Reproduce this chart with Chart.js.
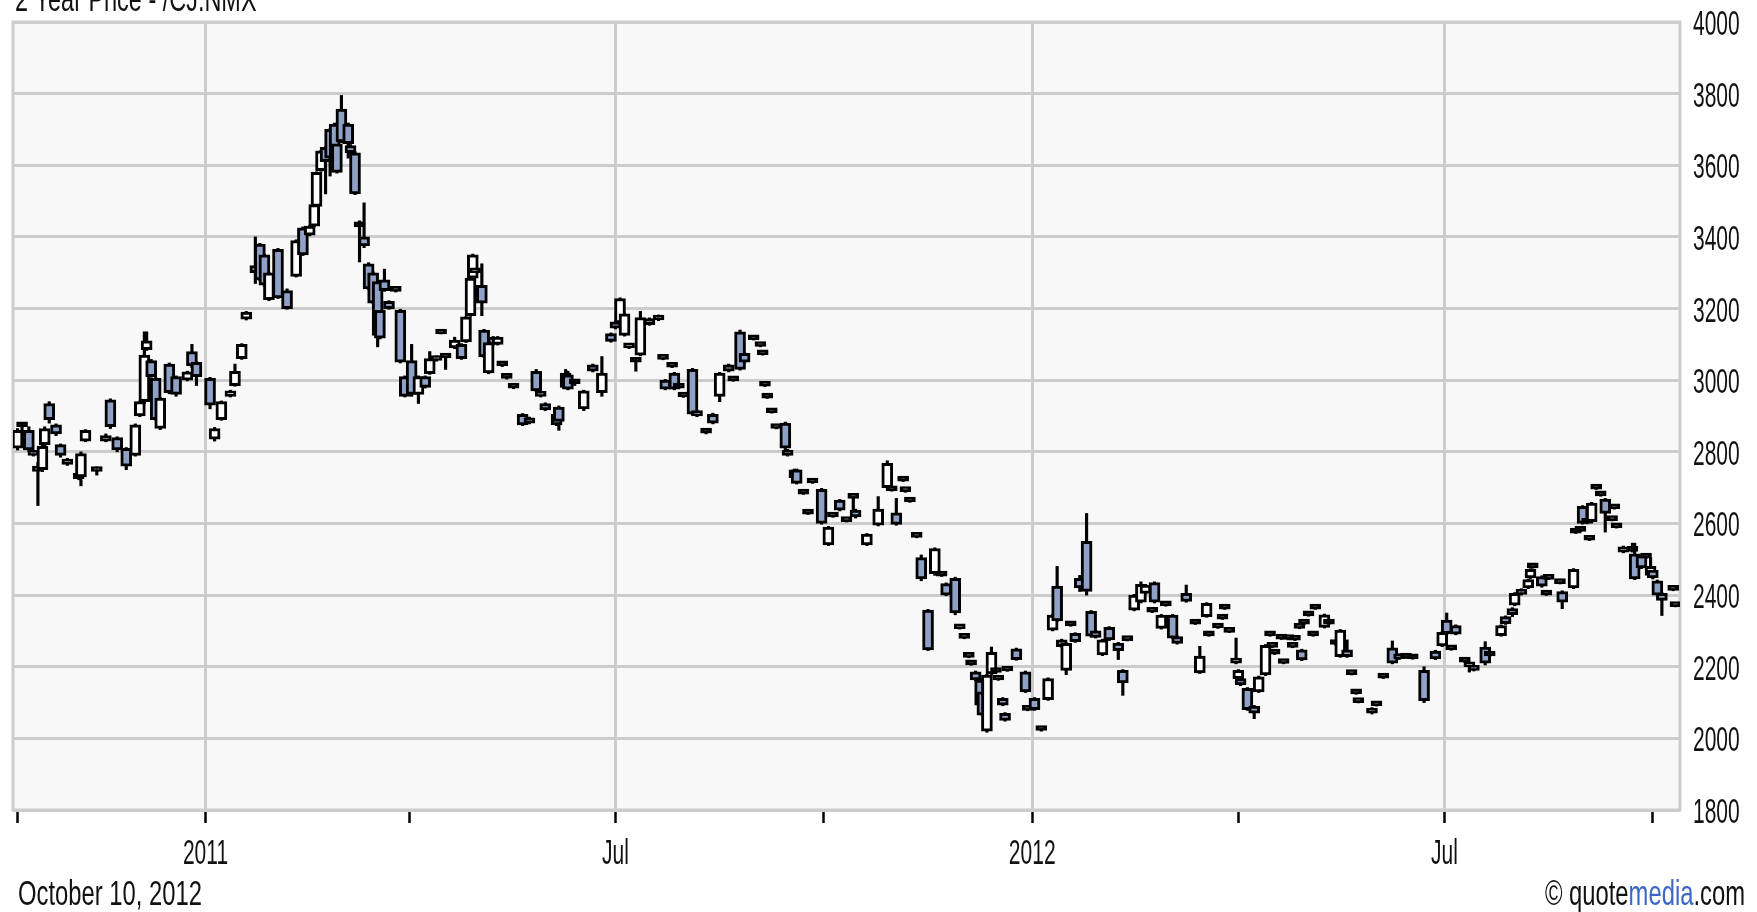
<!DOCTYPE html>
<html>
<head>
<meta charset="utf-8">
<script src="https://cdn.jsdelivr.net/npm/chart.js@4.4.1/dist/chart.umd.min.js"></script>
<style>
  html, body { margin: 0; padding: 0; background: #fff; }
  #wrap { width: 1757px; height: 912px; }
</style>
</head>
<body>
<div id="wrap"><canvas id="priceChart"></canvas></div>
<script>
// days counted from 1 Jan 2011
const day = [
  -83,-81,-78,-76,-74,-72,-71,-69,-66,-64,
  -61,-56,-55,-53,-48,-44,-42,-39,-35,-31,
  -29,-27,-26,-24,-22,-20,-16,-13,-8,-6,
  -4,2,4,7,11,13,16,18,22,24,
  26,28,32,36,40,43,46,48,49,51,
  53,55,57,58,60,63,64,66,68,70,
  72,74,76,77,79,81,84,86,88,91,
  94,97,99,102,104,106,110,113,115,117,
  118,119,122,123,125,127,129,131,133,136,
  140,143,146,148,150,155,156,159,160,163,
  167,171,175,179,181,183,185,187,190,192,
  196,200,202,203,206,207,209,211,215,217,
  221,224,227,231,233,236,238,242,245,246,
  247,248,250,252,256,257,260,261,264,266,
  268,272,275,277,280,283,286,287,292,297,
  301,303,305,308,309,311,314,316,319,322,
  325,327,331,333,335,337,338,340,342,343,
  345,347,349,350,352,353,354,358,362,363,
  366,369,372,374,376,378,380,382,384,386,
  389,391,393,396,399,403,405,407,410,413,
  415,418,419,422,424,427,429,433,437,439,
  442,443,447,449,450,452,455,456,457,460,
  463,465,468,470,471,472,475,476,478,480,
  481,483,484,485,487,489,490,494,496,499,
  501,504,506,508,509,515,517,520,524,527,
  530,533,538,543,546,548,550,552,556,558,
  560,565,567,572,574,577,578,581,584,585,
  586,590,592,593,598,599,604,605,607,608,
  610,611,612,614,616,618,621,622,623,626,
  630,631,634,636,638,639,641,643,648,649
];
const open = [
  2810,2870,2860,2800,2760,2750,2820,2935,2875,2820,
  2780,2740,2730,2830,2755,2845,2945,2840,2810,2790,
  2900,2940,3085,3055,3005,2865,3045,3010,3000,3080,
  3050,3005,2835,2890,2955,2985,3060,3170,3320,3380,
  3350,3225,3365,3250,3290,3425,3405,3430,3485,3585,
  3650,3700,3715,3660,3757,3715,3655,3635,3430,3400,
  3325,3300,3275,3195,3280,3220,3250,3195,3010,3055,
  2960,3010,3018,3055,3131,3065,3090,3100,3107,3180,
  3285,3310,3265,3140,3020,3120,3100,3042,3010,2980,
  2905,2895,3025,2965,2935,2905,2925,3020,3015,2995,
  2920,3043,2965,3130,3163,3160,3125,3098,3052,3070,
  3172,3180,3060,3000,3038,3020,2980,2955,3030,2915,
  2855,2905,2955,3043,3000,3135,3075,3115,3096,3073,
  2985,2952,2911,2867,2880,2805,2750,2750,2684,2628,
  2715,2695,2540,2620,2665,2607,2672,2637,2540,2595,
  2700,2693,2630,2720,2690,2662,2563,2505,2358,2460,
  2455,2432,2447,2316,2281,2228,2207,2186,2163,2130,
  2020,2180,2186,2165,2112,2070,2190,2250,2186,2080,
  2112,2025,2108,2302,2425,2275,2190,2316,2293,2447,
  2550,2355,2300,2233,2310,2266,2190,2275,2358,2380,
  2405,2354,2435,2307,2372,2344,2284,2405,2321,2183,
  2340,2288,2310,2335,2363,2298,2223,2167,2167,2140,
  2090,2130,2177,2288,2256,2237,2279,2211,2279,2256,
  2276,2309,2247,2321,2344,2288,2363,2310,2321,2265,
  2228,2247,2180,2126,2102,2084,2093,2170,2253,2234,
  2228,2226,2190,2244,2258,2330,2249,2315,2215,2200,
  2200,2255,2232,2287,2340,2362,2372,2416,2420,2448,
  2478,2452,2402,2446,2434,2410,2420,2575,2580,2648,
  2602,2555,2605,2698,2679,2668,2610,2643,2590,2535,
  2524,2515,2510,2505,2455,2470,2440,2405,2415,2370
];
const high = [
  2865,2880,2870,2802,2770,2820,2870,2940,2878,2822,
  2782,2742,2800,2862,2758,2850,2948,2842,2812,2878,
  2942,3135,3135,3058,3008,2952,3048,3012,3025,3100,
  3052,3008,2868,2942,2972,3045,3102,3192,3400,3382,
  3352,3302,3368,3255,3392,3428,3432,3492,3582,3642,
  3652,3702,3718,3662,3795,3718,3658,3638,3445,3495,
  3328,3303,3278,3198,3310,3222,3252,3198,3012,3100,
  3012,3012,3080,3068,3132,3067,3120,3102,3178,3287,
  3352,3312,3325,3142,3107,3122,3122,3044,3012,2982,
  2907,2897,3030,2967,2937,2907,2928,3030,3025,2998,
  2972,3045,3066,3132,3165,3230,3187,3100,3060,3192,
  3174,3182,3062,3002,3040,3022,2982,2957,3033,2917,
  2858,2908,3022,3045,3002,3140,3077,3117,3098,3075,
  2987,2954,2913,2869,2883,2807,2752,2752,2686,2630,
  2717,2698,2592,2622,2667,2609,2675,2640,2572,2675,
  2775,2695,2670,2722,2692,2664,2565,2512,2360,2532,
  2457,2434,2450,2318,2283,2230,2209,2188,2165,2132,
  2179,2255,2188,2167,2114,2072,2192,2252,2188,2082,
  2114,2027,2169,2346,2480,2277,2267,2318,2295,2455,
  2628,2357,2302,2277,2312,2268,2192,2277,2402,2437,
  2430,2356,2437,2346,2374,2346,2286,2428,2323,2257,
  2379,2290,2312,2337,2365,2300,2280,2192,2169,2142,
  2092,2174,2262,2290,2258,2239,2281,2213,2281,2258,
  2278,2311,2249,2323,2346,2290,2365,2347,2323,2268,
  2304,2275,2182,2128,2104,2086,2095,2172,2272,2236,
  2230,2228,2200,2246,2298,2350,2251,2317,2217,2212,
  2203,2270,2234,2317,2342,2365,2407,2418,2445,2474,
  2480,2454,2404,2448,2436,2412,2474,2577,2582,2650,
  2604,2557,2659,2700,2681,2670,2612,2645,2592,2537,
  2545,2545,2512,2507,2505,2472,2442,2407,2417,2372
];
const low = [
  2805,2860,2800,2788,2650,2745,2815,2880,2845,2785,
  2762,2722,2705,2828,2735,2828,2865,2800,2750,2788,
  2898,2935,3083,3008,2888,2862,2962,2955,2998,3035,
  2985,2920,2830,2888,2953,2983,3058,3168,3270,3278,
  3262,3222,3228,3198,3288,3348,3403,3428,3483,3583,
  3520,3570,3623,3578,3663,3620,3633,3518,3330,3370,
  3253,3213,3093,3115,3248,3198,3246,3048,2953,2955,
  2935,2978,3016,3053,3129,3030,3088,3058,3105,3178,
  3283,3298,3180,3063,3018,3098,3098,3038,3003,2976,
  2873,2878,2968,2953,2915,2873,2860,2978,2973,2985,
  2915,3023,2955,3106,3143,3158,3123,3088,3025,3068,
  3153,3166,3057,2973,3035,2973,2977,2952,2903,2898,
  2850,2878,2940,3023,2997,3028,3048,3112,3093,3070,
  2982,2949,2908,2864,2805,2788,2726,2710,2681,2625,
  2712,2598,2538,2617,2635,2604,2620,2615,2538,2593,
  2698,2690,2595,2717,2687,2659,2560,2440,2245,2455,
  2452,2398,2345,2305,2278,2225,2204,2161,2091,2063,
  2017,2178,2183,2162,2091,2048,2187,2218,2128,2077,
  2078,2020,2106,2300,2326,2254,2178,2313,2268,2410,
  2400,2283,2280,2231,2273,2220,2120,2272,2356,2378,
  2403,2351,2378,2305,2369,2278,2263,2380,2318,2181,
  2338,2285,2307,2332,2360,2295,2208,2165,2147,2078,
  2055,2128,2175,2285,2253,2234,2276,2208,2275,2253,
  2273,2306,2217,2318,2341,2285,2360,2308,2318,2260,
  2226,2226,2177,2123,2099,2068,2090,2167,2208,2220,
  2223,2221,2100,2220,2256,2290,2246,2289,2212,2185,
  2188,2205,2229,2285,2318,2340,2370,2400,2418,2446,
  2475,2422,2399,2443,2431,2362,2418,2572,2577,2598,
  2599,2552,2603,2695,2676,2576,2607,2640,2587,2518,
  2520,2443,2474,2502,2453,2445,2398,2343,2412,2367
];
const close = [
  2860,2875,2805,2790,2745,2815,2865,2890,2850,2790,
  2765,2725,2795,2860,2745,2830,2870,2805,2760,2875,
  2940,3070,3110,3010,2890,2950,2965,2960,3023,3040,
  3010,2930,2865,2940,2970,3025,3100,3190,3300,3280,
  3265,3300,3230,3200,3390,3350,3430,3490,3580,3640,
  3610,3620,3625,3580,3665,3660,3635,3520,3428,3375,
  3255,3215,3125,3117,3250,3200,3248,3050,2955,2960,
  3010,2980,3060,3065,3129,3062,3112,3060,3177,3285,
  3350,3300,3215,3065,3105,3100,3120,3040,3005,2978,
  2875,2880,2970,2955,2917,2875,2885,2980,2975,2990,
  2970,3025,3020,3108,3145,3228,3185,3090,3050,3175,
  3155,3168,3058,2975,3036,2975,2978,2953,2905,2900,
  2852,2880,3020,3025,2998,3030,3050,3113,3094,3071,
  2983,2950,2909,2865,2810,2790,2728,2712,2682,2626,
  2713,2600,2590,2618,2637,2605,2670,2618,2570,2640,
  2768,2691,2597,2718,2689,2660,2561,2445,2247,2530,
  2453,2400,2350,2306,2279,2226,2205,2163,2093,2065,
  2177,2240,2184,2163,2093,2050,2188,2220,2130,2078,
  2080,2022,2167,2344,2328,2256,2265,2314,2270,2420,
  2410,2285,2282,2275,2275,2245,2155,2273,2400,2430,
  2428,2352,2380,2344,2370,2280,2265,2382,2319,2230,
  2377,2286,2308,2333,2361,2296,2210,2190,2149,2080,
  2070,2172,2260,2286,2254,2235,2277,2209,2276,2254,
  2274,2307,2219,2319,2342,2286,2361,2345,2319,2262,
  2302,2228,2178,2124,2100,2070,2091,2168,2210,2222,
  2224,2222,2105,2222,2296,2292,2247,2291,2213,2210,
  2190,2210,2230,2315,2320,2345,2405,2402,2443,2472,
  2476,2425,2400,2444,2432,2380,2472,2573,2578,2600,
  2600,2553,2657,2696,2677,2628,2608,2641,2588,2520,
  2522,2445,2476,2503,2480,2448,2400,2385,2413,2368
];

const tickDays = [-83, 0, 90, 181, 273, 365, 456, 547, 639];
const tickLabels = ['', '2011', '', 'Jul', '', '2012', '', 'Jul', ''];

const FONT = "35px 'Liberation Sans', Arial, sans-serif";
const UP_FILL = '#ffffff';
const DOWN_FILL = '#8fa1c6';
const GRID = '#cccccc';
const INK = '#111111';

const bodies = day.map((d, i) => ({ x: d, y: [open[i], close[i]] }));
const wicks = day.map((d, i) => ({ x: d, y: [low[i], high[i]] }));

// narrow text, like the original pixel font
function narrowText(ctx, text, x, y, align, squeeze, color) {
  ctx.save();
  ctx.font = FONT;
  ctx.fillStyle = color || INK;
  ctx.textAlign = align;
  ctx.textBaseline = 'alphabetic';
  ctx.translate(x, y);
  ctx.scale(squeeze, 1);
  ctx.fillText(text, 0, 0);
  ctx.restore();
}

const frame = {
  id: 'frame',
  beforeDraw(chart) {
    const { ctx, chartArea: a } = chart;
    ctx.save();
    ctx.fillStyle = '#f8f8f8';
    ctx.fillRect(a.left, a.top, a.right - a.left, a.bottom - a.top);
    ctx.restore();
  },
  beforeDatasetsDraw(chart) {
    const { ctx, chartArea: a } = chart;
    ctx.save();
    ctx.strokeStyle = GRID;
    ctx.lineWidth = 3;
    ctx.strokeRect(a.left, a.top, a.right - a.left, a.bottom - a.top);
    ctx.restore();
  },
  afterDraw(chart) {
    const ctx = chart.ctx;
    const xs = chart.scales.x, ys = chart.scales.y;
    ys.ticks.forEach(t => {
      narrowText(ctx, String(t.value), chart.chartArea.right + 13, ys.getPixelForValue(t.value) + 13, 'left', 0.6);
    });
    xs.ticks.forEach((t, i) => {
      if (tickLabels[i]) narrowText(ctx, tickLabels[i], xs.getPixelForValue(t.value), 864, 'center', 0.6);
    });
    narrowText(ctx, '2 Year Price - /CJ.NMX', 15, 11, 'left', 0.67);
    narrowText(ctx, 'October 10, 2012', 18, 905, 'left', 0.68);

    // © quotemedia.com, right aligned, "media" in blue
    const parts = [['\u00a9 quote', INK], ['media', '#3d67c4'], ['.com', INK]];
    ctx.save();
    ctx.font = FONT;
    const sq = 0.68;
    const widths = parts.map(p => ctx.measureText(p[0]).width * sq);
    ctx.restore();
    let x = 1745 - widths.reduce((s, w) => s + w, 0);
    parts.forEach((p, i) => {
      narrowText(ctx, p[0], x, 905, 'left', sq, p[1]);
      x += widths[i];
    });
  }
};

new Chart(document.getElementById('priceChart'), {
  type: 'bar',
  data: {
    datasets: [
      {
        label: 'range',
        data: wicks,
        backgroundColor: '#000',
        borderWidth: 0,
        barThickness: 2.5,
        grouped: false,
        order: 2
      },
      {
        label: 'body',
        data: bodies,
        backgroundColor: ctx => {
          const o = open[ctx.dataIndex], c = close[ctx.dataIndex];
          if (Math.abs(c - o) < 8) return '#000';
          return c >= o ? UP_FILL : DOWN_FILL;
        },
        borderColor: '#000',
        borderWidth: 3,
        borderSkipped: false,
        barThickness: 11,
        minBarLength: 5,
        grouped: false,
        order: 1
      }
    ]
  },
  options: {
    responsive: true,
    maintainAspectRatio: false,
    animation: false,
    layout: { padding: { left: 13, top: 22, right: 0, bottom: 0 } },
    plugins: {
      legend: { display: false },
      tooltip: { enabled: false }
    },
    scales: {
      x: {
        type: 'linear',
        min: -85,
        max: 651,
        offset: false,
        afterBuildTicks(scale) {
          scale.ticks = tickDays.map(v => ({ value: v }));
        },
        afterFit(scale) { scale.height = 102; },
        ticks: { display: false, autoSkip: false },
        grid: {
          offset: false,
          color: ctx => tickLabels[ctx.index] ? GRID : 'rgba(0,0,0,0)',
          lineWidth: 3,
          tickColor: '#000',
          tickWidth: 2.5,
          tickLength: 13
        },
        border: { display: false }
      },
      y: {
        position: 'right',
        min: 1800,
        max: 4000,
        afterFit(scale) { scale.width = 77; },
        ticks: { display: false, stepSize: 200 },
        grid: { color: GRID, lineWidth: 3, drawTicks: false },
        border: { display: false }
      }
    }
  },
  plugins: [frame]
});
</script>
</body>
</html>
